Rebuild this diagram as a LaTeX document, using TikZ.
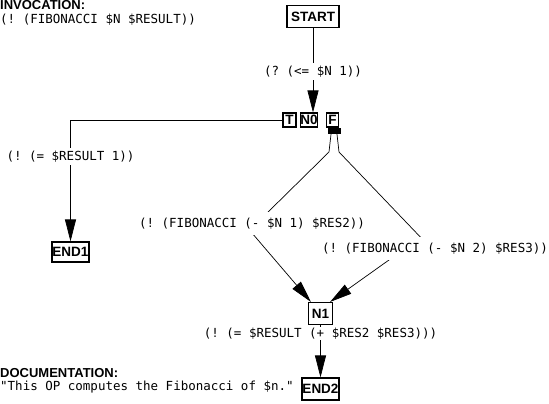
\documentclass[tikz,border=0pt]{standalone}
\usepackage{fontspec}
\setmonofont{DejaVu Sans Mono}
\newfontfamily\headf{Liberation Sans}
\usetikzlibrary{arrows.meta,backgrounds}
\begin{document}
\begin{tikzpicture}[x=1pt,y=-1pt,
  box/.style={draw, line width=1.1pt, fill=white, inner sep=0pt, font=\headf\bfseries\fontsize{13.5}{15}\selectfont},
  lbl/.style={fill=white, inner xsep=1pt, inner ysep=3pt, font=\ttfamily\fontsize{12.5}{14}\selectfont, anchor=base},
  txt/.style={inner sep=0pt, anchor=base west, font=\ttfamily\fontsize{12.5}{14}\selectfont},
  head/.style={inner sep=0pt, anchor=base west, font=\headf\bfseries\fontsize{13}{15}\selectfont},
  conn/.style={line width=0.7pt},
  arr/.style={conn, -{Triangle[length=22pt,width=11pt]}}]
\useasboundingbox (0,0) rectangle (549,404);
% texts
\node[head] (invh) at (0,9.5) {INVOCATION:};
\node[txt] (invt) at (0,24) {(! (FIBONACCI \$N \$RESULT))};
\node[head] (doch) at (0,377) {DOCUMENTATION:};
\node[txt] (doct) at (0,390) {"This OP computes the Fibonacci of \$n."};
% boxes
\node[box, minimum width=52pt, minimum height=22pt] (start) at (313,16.5) {START};
\node[box, minimum width=13pt, minimum height=14pt] (t) at (289.5,120) {T};
\node[box, minimum width=17pt, minimum height=14pt] (n0) at (309,120) {N0};
\node[box, minimum width=12pt, minimum height=14pt] (f) at (332.5,120) {F};
\node[fill=black, inner sep=0pt, minimum width=13pt, minimum height=6pt] (fbar) at (334,131) {};
\node[box, minimum width=37pt, minimum height=20pt] (end1) at (70.5,252) {END1};
\node[box, minimum width=24pt, minimum height=22pt] (n1) at (320.5,313.5) {N1};
\node[box, minimum width=37pt, minimum height=22pt] (end2) at (320.5,389) {END2};
% labels
\node[lbl] (c1) at (313,75) {(? (<= \$N 1))};
\node[lbl] (c2) at (70.5,160) {(! (= \$RESULT 1))};
\node[lbl, inner ysep=6pt] (c3) at (252,227) {(! (FIBONACCI (- \$N 1) \$RES2))};
\node[lbl, inner ysep=6pt] (c4) at (435,252) {(! (FIBONACCI (- \$N 2) \$RES3))};
\node[lbl, inner ysep=1pt] (c5) at (320.5,337) {(! (= \$RESULT (+ \$RES2 \$RES3)))};
% bend points
\coordinate (l1) at (329,152);
\coordinate (l2) at (262,218);
\coordinate (l3) at (246,226);
\coordinate (r1) at (339,152);
\coordinate (r2) at (427,244);
\coordinate (r3) at (403,250);
\begin{scope}[on background layer]
\draw[arr] (start.south) -- (start.south |- n0.north);
\draw[arr] (t.west) -| (end1.north);
\draw[arr] ([xshift=-3pt]fbar.south) -- (l1) -- (l2) -- (l3) -- ([xshift=3pt]n1.north west);
\draw[arr] ([xshift=3pt]fbar.south) -- (r1) -- (r2) -- (r3) -- ([xshift=-3pt]n1.north east);
\draw[arr] (n1.south) -- (end2.north);
\end{scope}
\end{tikzpicture}
\end{document}
